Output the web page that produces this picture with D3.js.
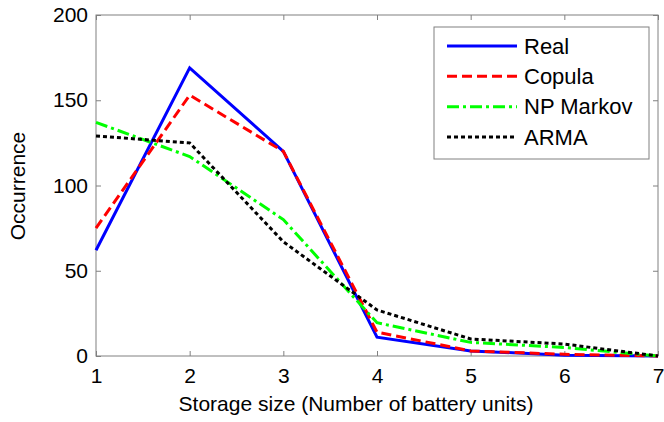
<!DOCTYPE html>
<html>
<head>
<meta charset="utf-8">
<script src="https://cdn.jsdelivr.net/npm/d3@7"></script>
<style>
  html, body { margin: 0; padding: 0; background: #fff; }
  svg { display: block; }
  text { font-family: "Liberation Sans", Arial, Helvetica, sans-serif; fill: #000; }
</style>
</head>
<body>
<svg id="chart" width="664" height="422"></svg>
<script>
const sizes = [1, 2, 3, 4, 5, 6, 7];
const real = [62, 169, 120, 11, 3, 0.5, 0];
const copula = [75, 153, 120, 14, 3, 1, 0];
const npMarkov = [137, 117, 80, 19.5, 8, 5, 0];
const arma = [129, 125, 67, 27, 10, 7, 0];
const seriesNames = ["Real", "Copula", "NP Markov", "ARMA"];
const yTicks = [0, 50, 100, 150, 200];
const xLabel = "Storage size (Number of battery units)";
const yLabel = "Occurrence";

const seriesValues = [real, copula, npMarkov, arma];
const styles = [
  { color: "#0000ff", dash: null },
  { color: "#ff0000", dash: "10,5" },
  { color: "#00ff00", dash: "12,4,3,4" },
  { color: "#000000", dash: "4,3" }
];

const svg = d3.select("#chart");
const pLeft = 96, pRight = 658, pTop = 15, pBottom = 356;
const x = d3.scaleLinear().domain([1, 7]).range([pLeft, pRight]);
const y = d3.scaleLinear().domain([0, 200]).range([pBottom, pTop]);
const axisColor = "#808080";

// frame
svg.append("rect").attr("x", pLeft).attr("y", pTop)
  .attr("width", pRight - pLeft).attr("height", pBottom - pTop)
  .attr("fill", "none").attr("stroke", axisColor).attr("stroke-width", 1);

function styleAxis(g, showText) {
  g.select(".domain").remove();
  g.selectAll(".tick line").attr("stroke", axisColor);
  if (!showText) g.selectAll(".tick text").remove();
  g.selectAll(".tick text").attr("fill", "#000")
    .style("font-family", '"Liberation Sans", Arial, sans-serif')
    .style("font-size", "21px");
}

svg.append("g").attr("transform", `translate(0,${pBottom})`)
  .call(d3.axisBottom(x).tickValues(sizes).tickSize(-5).tickPadding(12).tickFormat(d3.format("d")))
  .call(g => styleAxis(g, true));
svg.append("g").attr("transform", `translate(0,${pTop})`)
  .call(d3.axisTop(x).tickValues(sizes).tickSize(-5))
  .call(g => styleAxis(g, false));
svg.append("g").attr("transform", `translate(${pLeft},0)`)
  .call(d3.axisLeft(y).tickValues(yTicks).tickSize(-5).tickPadding(8).tickFormat(d3.format("d")))
  .call(g => styleAxis(g, true));
svg.append("g").attr("transform", `translate(${pRight},0)`)
  .call(d3.axisRight(y).tickValues(yTicks).tickSize(-5))
  .call(g => styleAxis(g, false));

// axis labels
svg.append("text").attr("x", 356).attr("y", 411)
  .attr("text-anchor", "middle").style("font-size", "21px").text(xLabel);
svg.append("text").attr("transform", "translate(25,186) rotate(-90)")
  .attr("text-anchor", "middle").style("font-size", "21px").text(yLabel);

// lines
const line = d3.line().x((d, i) => x(sizes[i])).y(d => y(d));
seriesValues.forEach((vals, k) => {
  svg.append("path").datum(vals)
    .attr("d", line)
    .attr("fill", "none")
    .attr("stroke", styles[k].color)
    .attr("stroke-width", 3)
    .attr("stroke-dasharray", styles[k].dash)
    .attr("stroke-linejoin", "miter");
});

// legend
const lg = svg.append("g");
lg.append("rect").attr("x", 434).attr("y", 27).attr("width", 215).attr("height", 132)
  .attr("fill", "#fff").attr("stroke", axisColor).attr("stroke-width", 1);
const rowY = d3.scalePoint().domain(seriesNames).range([46, 137]);
seriesNames.forEach((name, k) => {
  const yy = rowY(name);
  lg.append("line").attr("x1", 447).attr("x2", 517).attr("y1", yy).attr("y2", yy)
    .attr("stroke", styles[k].color).attr("stroke-width", 3)
    .attr("stroke-dasharray", styles[k].dash);
  lg.append("text").attr("x", 524).attr("y", yy).attr("dy", "0.35em")
    .style("font-size", "22px").text(name);
});
</script>
</body>
</html>
